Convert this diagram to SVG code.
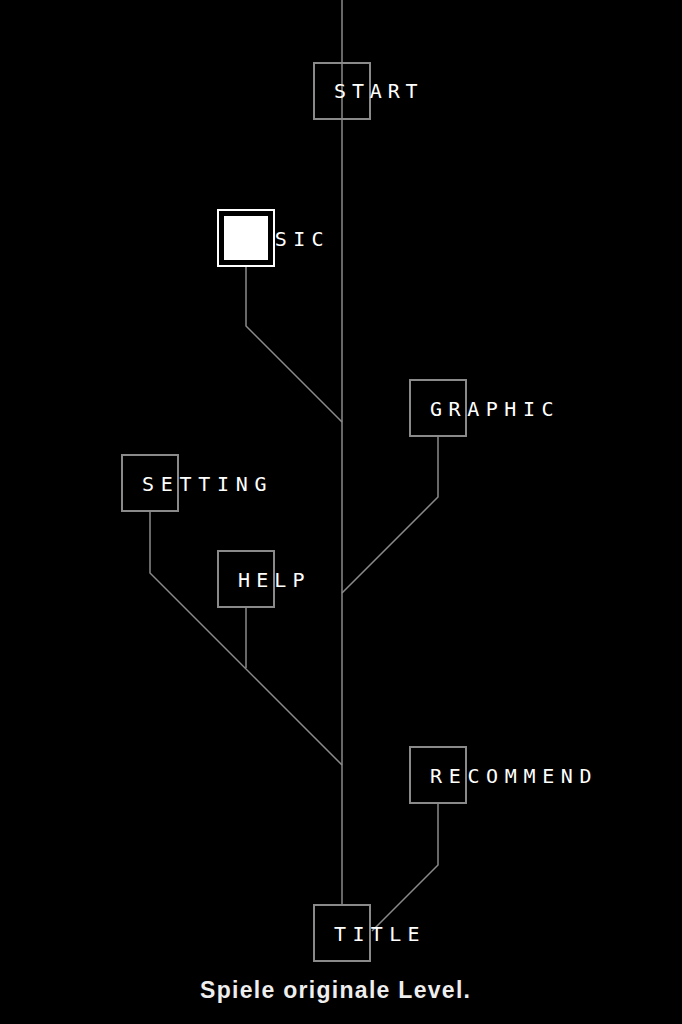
<svg xmlns="http://www.w3.org/2000/svg" width="682" height="1024" viewBox="0 0 682 1024">
<style>
.b{fill:none;stroke:#8a8a8a;stroke-width:2}
.t{fill:#fff;font-family:"DejaVu Sans Mono",monospace;font-size:20px;letter-spacing:6.4px}
.c{fill:none;stroke:#8a8a8a;stroke-width:1.5}
</style>
<rect width="682" height="1024" fill="#000"/>
<g id="connectors" class="c">
<line x1="342" y1="0" x2="342" y2="906"/>
<polyline points="246,266 246,326 342,422"/>
<polyline points="438,436 438,497 342,593"/>
<polyline points="150,511 150,573 342,765"/>
<line x1="246" y1="607" x2="246" y2="668"/>
<polyline points="438,803 438,865 372,931"/>
</g>
<g id="start"><rect class="b" x="314" y="63" width="56" height="56"/><text class="t" x="334" y="98" textLength="90">START</text></g>
<g id="music"><text class="t" x="238" y="246" textLength="92">MUSIC</text><rect x="218" y="210" width="56" height="56" fill="none" stroke="#fff" stroke-width="2"/><rect x="224" y="216" width="44" height="44" fill="#fff"/></g>
<g id="graphic"><rect class="b" x="410" y="380" width="56" height="56"/><text class="t" x="430" y="416" textLength="130">GRAPHIC</text></g>
<g id="setting"><rect class="b" x="122" y="455" width="56" height="56"/><text class="t" x="142" y="491" textLength="131">SETTING</text></g>
<g id="help"><rect class="b" x="218" y="551" width="56" height="56"/><text class="t" x="238" y="587" textLength="73">HELP</text></g>
<g id="recommend"><rect class="b" x="410" y="747" width="56" height="56"/><text class="t" x="430" y="783" textLength="168">RECOMMEND</text></g>
<g id="title"><rect class="b" x="314" y="905" width="56" height="56"/><text class="t" x="334" y="941" textLength="92">TITLE</text></g>
<text x="335" y="998" text-anchor="middle" fill="#eee" font-family="Liberation Sans,Arial,sans-serif" font-weight="bold" font-size="23" textLength="270">Spiele originale Level.</text>
</svg>
